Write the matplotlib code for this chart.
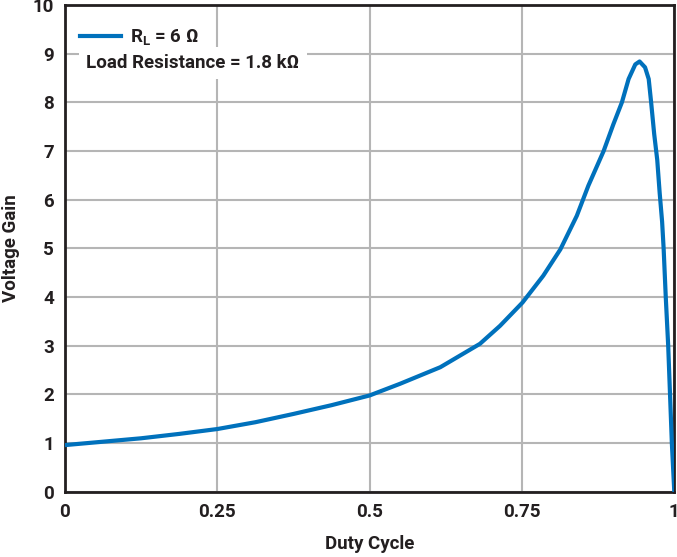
import matplotlib
matplotlib.use("Agg")
import matplotlib.pyplot as plt

# duty cycle vs voltage gain
duty = [0.0, 0.0625, 0.125, 0.1875, 0.25, 0.3125, 0.375, 0.4375, 0.5, 0.55,
        0.616, 0.681, 0.714, 0.751, 0.785, 0.813, 0.840, 0.859, 0.884, 0.900,
        0.914, 0.925, 0.936, 0.943, 0.952, 0.958, 0.962, 0.967, 0.972, 0.976,
        0.980, 0.9825, 0.986, 0.990, 0.993, 0.996, 1.0]
gain = [0.96, 1.03, 1.10, 1.19, 1.29, 1.43, 1.60, 1.78, 1.98, 2.22,
        2.56, 3.04, 3.41, 3.89, 4.44, 4.98, 5.67, 6.29, 7.0, 7.55,
        8.0, 8.48, 8.78, 8.84, 8.72, 8.48, 8.0, 7.35, 6.82, 6.14,
        5.55, 5.0, 4.0, 3.0, 2.0, 1.0, 0.0]

xticks = [0, 0.25, 0.5, 0.75, 1]
xticklabels = ["0", "0.25", "0.5", "0.75", "1"]
yticks = list(range(0, 11))

plt.rcParams['font.family'] = ['Roboto', 'DejaVu Sans']
plt.rcParams['font.weight'] = 'bold'
plt.rcParams['mathtext.fontset'] = 'custom'
plt.rcParams['mathtext.rm'] = 'Roboto:bold'
plt.rcParams['mathtext.it'] = 'Roboto:bold'

dark = "#231f20"
blue = "#0071bc"
fs = 13.5

fig = plt.figure(figsize=(6.77, 5.57), dpi=100)
ax = fig.add_axes([0.096, 0.117, 0.9, 0.874])

ax.plot(duty, gain, color=blue, lw=3, solid_joinstyle='round', zorder=3)

ax.set_xlim(0, 1)
ax.set_ylim(0, 10)
ax.set_xticks(xticks)
ax.set_xticklabels(xticklabels)
ax.set_yticks(yticks)
ax.grid(True, color="#b5b5b5", lw=1.5)
ax.set_axisbelow(True)
ax.tick_params(length=0, labelsize=fs, colors=dark, pad=8)
for lab in ax.get_xticklabels() + ax.get_yticklabels():
    lab.set_fontweight('bold')
for s in ax.spines.values():
    s.set_color(dark)
    s.set_linewidth(2)

ax.set_xlabel("Duty Cycle", fontsize=fs, fontweight='bold', color=dark, labelpad=10)
ax.set_ylabel("Voltage Gain", fontsize=fs, fontweight='bold', color=dark, labelpad=9)

leg = ax.legend([ax.lines[0]], [r"$\mathregular{R_L}$ = 6 Ω"], loc='upper left',
                bbox_to_anchor=(0.0, 0.985), frameon=True, fontsize=fs,
                handlelength=2.2, handletextpad=0.45, borderpad=0.3)
leg.get_frame().set_edgecolor('none')
leg.get_frame().set_facecolor('white')
leg.get_frame().set_alpha(1)
for t in leg.get_texts():
    t.set_color(dark)
    t.set_fontweight('bold')

ax.text(0.035, 0.88, "Load Resistance = 1.8 kΩ", transform=ax.transAxes,
        fontsize=fs, fontweight='bold', color=dark, va='center', ha='left',
        bbox=dict(facecolor='white', edgecolor='none', pad=5), zorder=4)

fig.savefig("out.png", dpi=100)
